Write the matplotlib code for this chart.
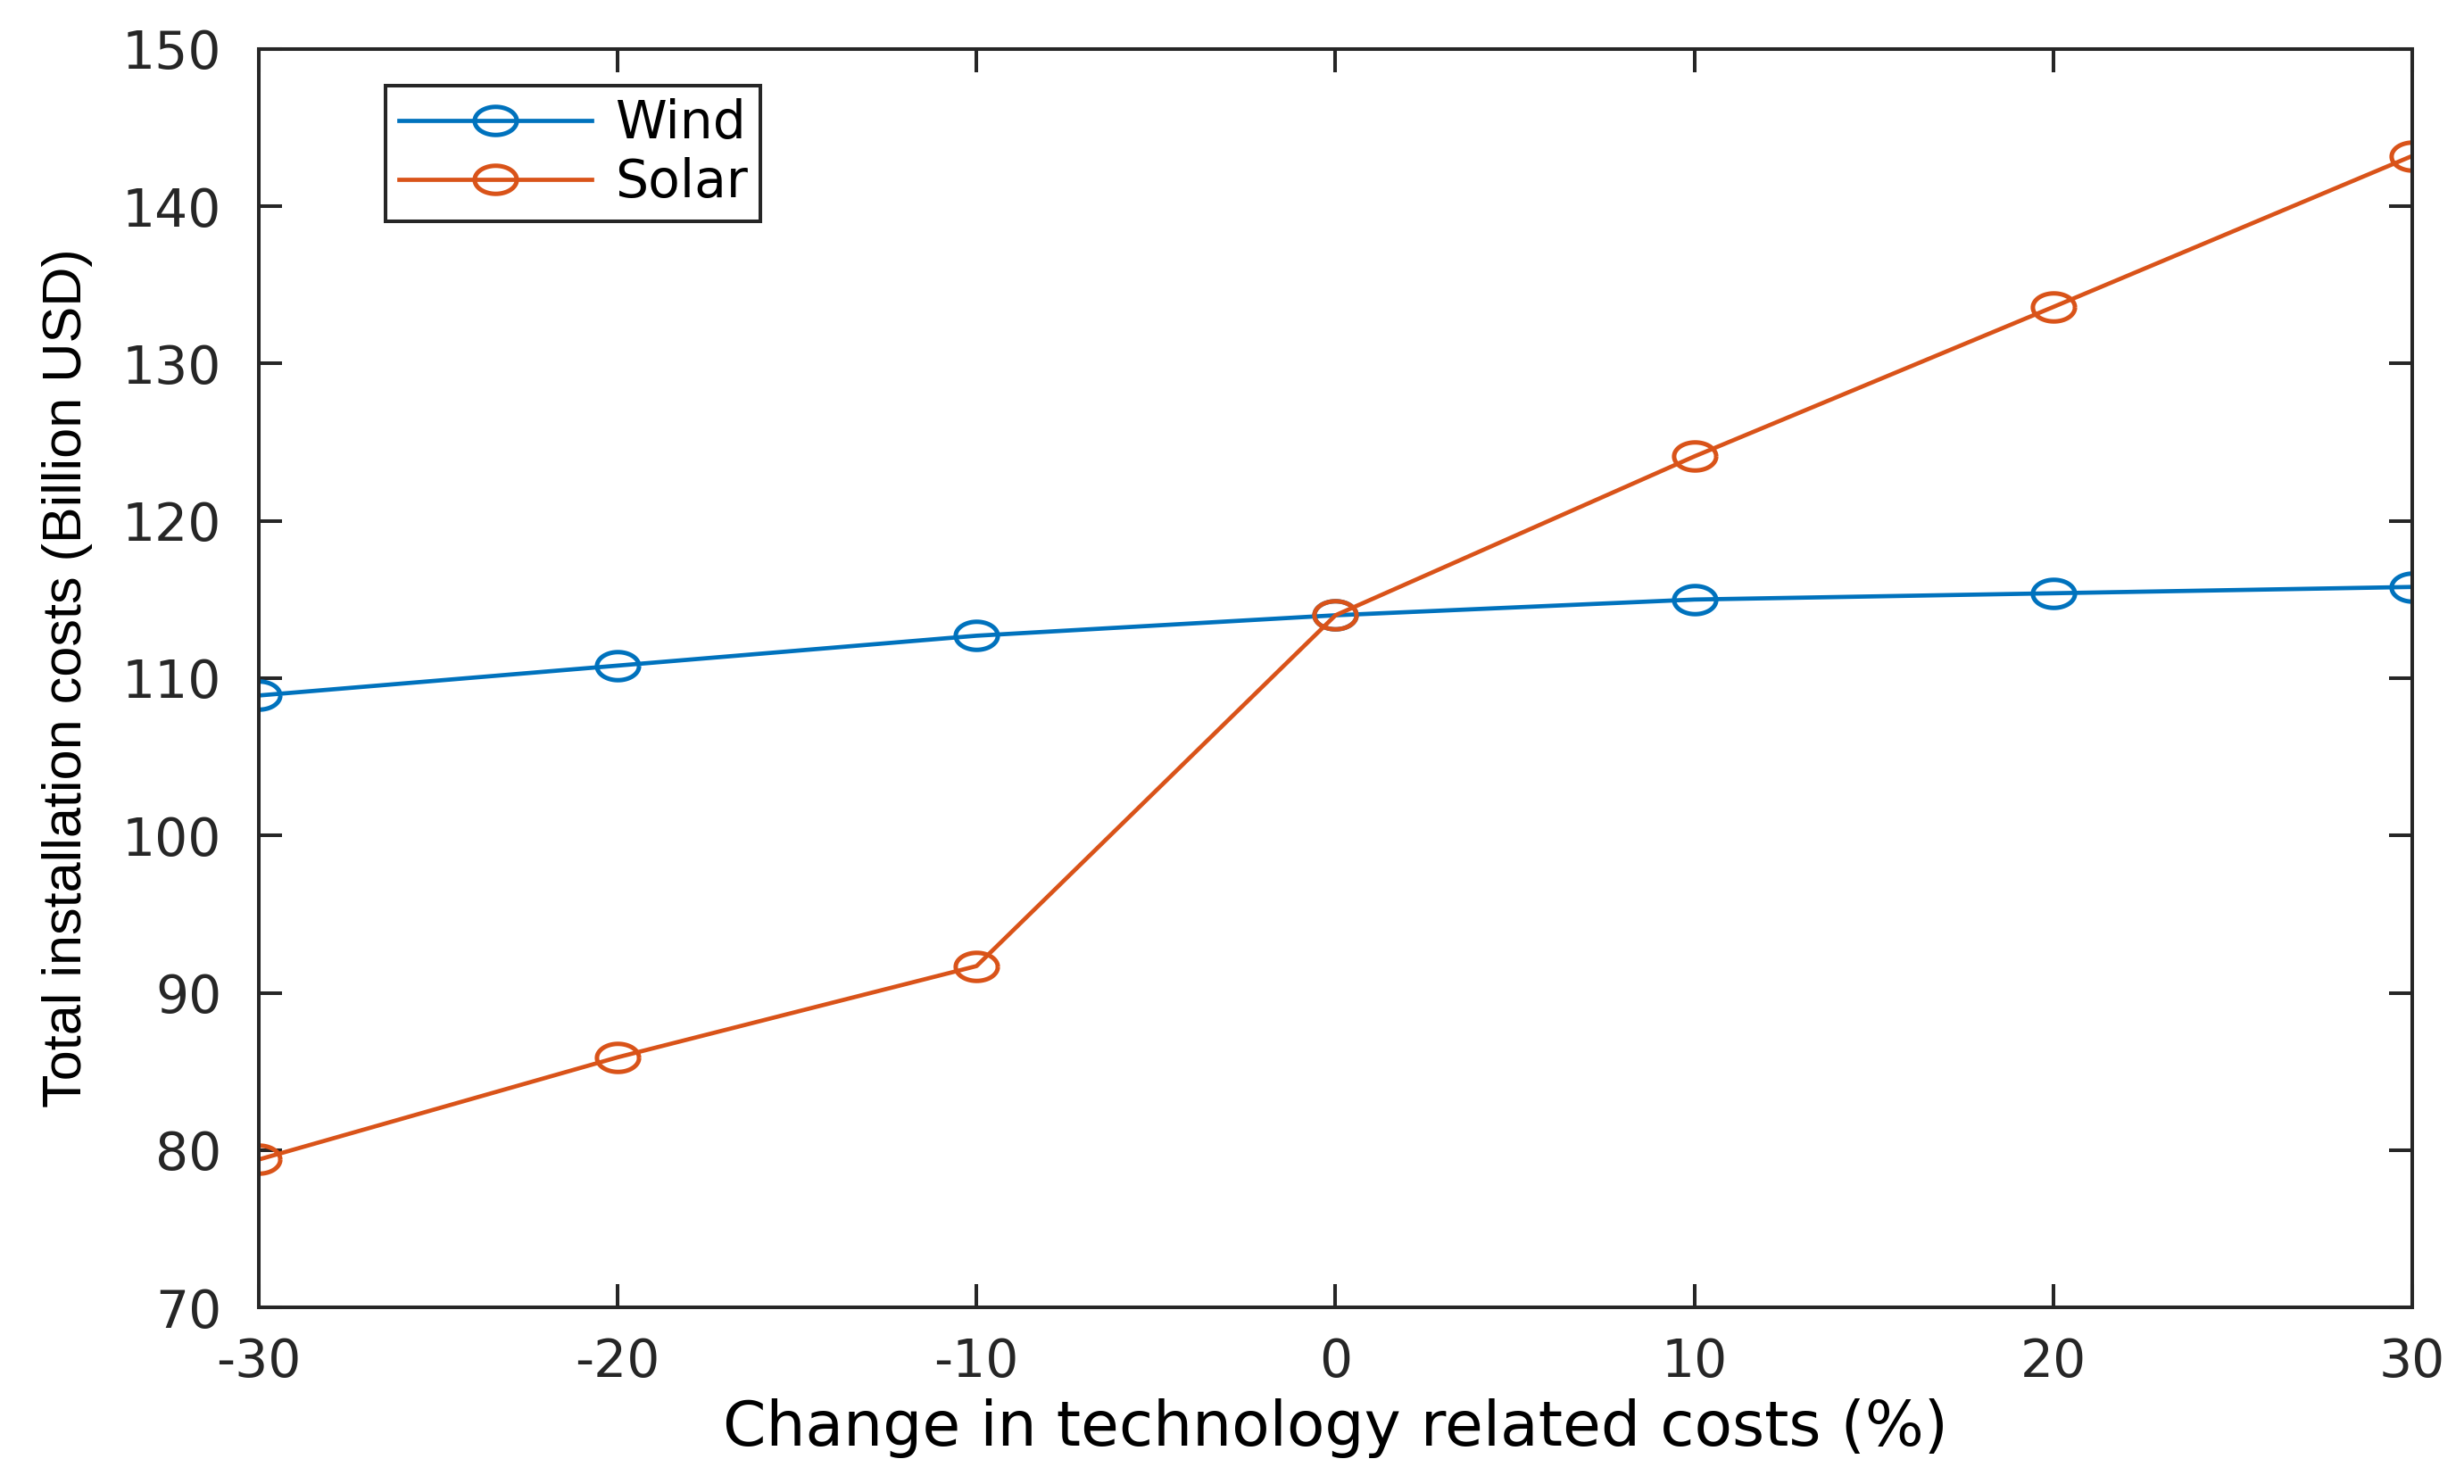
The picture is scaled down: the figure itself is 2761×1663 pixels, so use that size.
import matplotlib
matplotlib.use("Agg")
import matplotlib.pyplot as plt
import numpy as np
from matplotlib.path import Path

change = [-30, -20, -10, 0, 10, 20, 30]
wind = [108.9, 110.8, 112.7, 114.0, 115.0, 115.4, 115.8]
solar = [79.4, 85.9, 91.7, 114.0, 124.1, 133.6, 143.2]

# markers in the reference are wider than tall (stretched picture)
t = np.linspace(0, 2 * np.pi, 60)
ellipse = Path(np.column_stack([1.5 * np.cos(t), np.sin(t)]))

plt.rcParams['font.family'] = ['DejaVu Sans']
plt.rcParams['axes.unicode_minus'] = False

fig = plt.figure(figsize=(27.61, 16.63), dpi=100)
ax = fig.add_axes([0.105, 0.119, 0.874, 0.848])

ax.plot(change, wind, color='#0072BD', lw=3.4, marker=ellipse, ms=34,
        mfc='none', mec='#0072BD', mew=3.6, label='Wind')
ax.plot(change, solar, color='#D95319', lw=3.4, marker=ellipse, ms=34,
        mfc='none', mec='#D95319', mew=3.6, label='Solar')

ax.set_xlim(-30, 30)
ax.set_ylim(70, 150)
ax.set_xticks(change)
ax.set_yticks(range(70, 151, 10))

for s in ax.spines.values():
    s.set_linewidth(2.9)
    s.set_color('#262626')
ax.tick_params(direction='in', length=19, width=2.9, colors='#262626',
               labelsize=42, top=True, right=True)
ax.tick_params(axis='y', pad=30)
ax.tick_params(axis='x', pad=24)

ax.set_xlabel('Change in technology related costs (%)', fontsize=50, labelpad=8)
ax.set_ylabel('Total installation costs (Billion USD)', fontsize=44,
              family='Liberation Sans')
ax.yaxis.set_label_coords(-0.077, 0.5)

leg = ax.legend(loc='upper left', bbox_to_anchor=(0.059, 0.971), borderaxespad=0,
                fontsize=42, handlelength=3.7, handletextpad=0.45, fancybox=False,
                framealpha=1, edgecolor='#262626', borderpad=0.25, labelspacing=0.15)
leg.get_frame().set_linewidth(2.9)

fig.savefig('out.png', dpi=100)
